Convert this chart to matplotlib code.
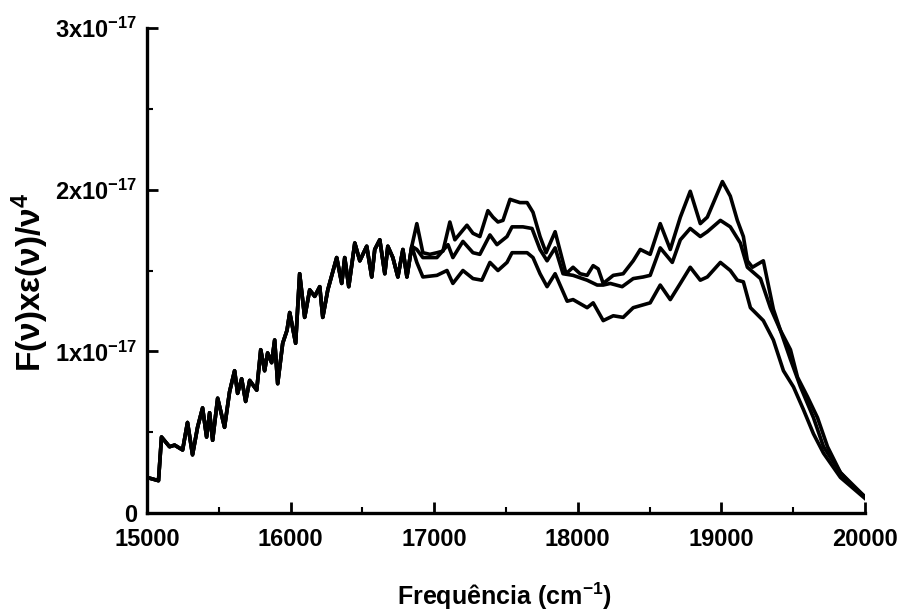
import matplotlib
matplotlib.use('Agg')
import matplotlib.pyplot as plt
import numpy as np
from matplotlib.ticker import MultipleLocator, FixedLocator, FixedFormatter

plt.rcParams['font.family'] = ['Liberation Sans', 'DejaVu Sans']
plt.rcParams['mathtext.fontset'] = 'custom'
plt.rcParams['mathtext.rm'] = 'Liberation Sans'
plt.rcParams['mathtext.it'] = 'Liberation Sans:italic'
plt.rcParams['mathtext.bf'] = 'Liberation Sans:bold'

# Shared (overlapping) low-frequency part, values in units of 1e-17
x_shared = [15000, 15080, 15101, 15157, 15192, 15248, 15282, 15317, 15352, 15387,
            15415, 15436, 15457, 15492, 15540, 15575, 15610, 15631, 15659, 15687,
            15715, 15764, 15792, 15819, 15840, 15868, 15889, 15910, 15945, 15975,
            15994, 16035, 16063, 16098, 16133, 16168, 16203, 16224, 16259, 16321,
            16356, 16377, 16405, 16447, 16482, 16530, 16565, 16586, 16621, 16656,
            16677, 16712, 16747, 16782, 16810, 16844]
y_shared = [0.22, 0.20, 0.47, 0.41, 0.42, 0.39, 0.56, 0.36, 0.53, 0.65,
            0.47, 0.62, 0.45, 0.71, 0.53, 0.75, 0.88, 0.74, 0.83, 0.69,
            0.82, 0.76, 1.01, 0.88, 0.99, 0.93, 1.07, 0.80, 1.05, 1.13,
            1.24, 1.05, 1.48, 1.21, 1.38, 1.34, 1.40, 1.21, 1.38, 1.58,
            1.42, 1.58, 1.40, 1.67, 1.56, 1.65, 1.46, 1.63, 1.69, 1.48,
            1.65, 1.58, 1.46, 1.63, 1.46, 1.65]

x_top = [16879, 16921, 16970, 17019, 17061, 17109, 17144, 17228, 17270, 17318,
         17374, 17409, 17444, 17479, 17528, 17597, 17647, 17688, 17737, 17779,
         17842, 17918, 17967, 18016, 18065, 18107, 18142, 18177, 18247, 18316,
         18386, 18435, 18504, 18574, 18644, 18714, 18783, 18853, 18902, 19007,
         19062, 19111, 19153, 19181, 19216, 19292, 19362, 19411, 19481, 19530,
         19599, 19669, 19739, 19829, 19920, 20000]
y_top = [1.79, 1.61, 1.60, 1.61, 1.62, 1.80, 1.69, 1.78, 1.73, 1.71,
         1.87, 1.83, 1.80, 1.81, 1.94, 1.92, 1.92, 1.86, 1.71, 1.61,
         1.74, 1.48, 1.52, 1.48, 1.47, 1.53, 1.51, 1.42, 1.47, 1.48,
         1.56, 1.63, 1.60, 1.79, 1.63, 1.83, 1.99, 1.79, 1.83, 2.05,
         1.96, 1.81, 1.71, 1.56, 1.52, 1.56, 1.26, 1.13, 1.01, 0.84,
         0.72, 0.59, 0.41, 0.25, 0.16, 0.10]

x_mid = [16879, 16921, 17019, 17096, 17130, 17200, 17270, 17318, 17388, 17437,
         17507, 17542, 17618, 17681, 17737, 17786, 17842, 17897, 17967, 18065,
         18135, 18177, 18226, 18309, 18386, 18456, 18504, 18574, 18658, 18714,
         18783, 18853, 18902, 18993, 19062, 19132, 19181, 19272, 19341, 19411,
         19481, 19551, 19641, 19711, 19829, 20000]
y_mid = [1.63, 1.58, 1.58, 1.66, 1.58, 1.68, 1.61, 1.60, 1.72, 1.66,
         1.71, 1.77, 1.77, 1.76, 1.63, 1.56, 1.64, 1.48, 1.47, 1.44,
         1.41, 1.41, 1.42, 1.40, 1.45, 1.46, 1.47, 1.64, 1.55, 1.69,
         1.76, 1.71, 1.74, 1.81, 1.77, 1.67, 1.52, 1.45, 1.27, 1.13,
         0.95, 0.78, 0.59, 0.41, 0.25, 0.10]

x_bot = [16879, 16921, 17019, 17089, 17130, 17200, 17270, 17332, 17388, 17444,
         17507, 17542, 17647, 17688, 17737, 17786, 17842, 17926, 17967, 18065,
         18107, 18177, 18247, 18316, 18386, 18504, 18574, 18644, 18714, 18783,
         18853, 18902, 18993, 19062, 19111, 19153, 19202, 19292, 19362, 19432,
         19502, 19571, 19641, 19711, 19829, 20000]
y_bot = [1.55, 1.46, 1.47, 1.50, 1.42, 1.50, 1.45, 1.44, 1.55, 1.50,
         1.55, 1.61, 1.61, 1.58, 1.48, 1.40, 1.48, 1.31, 1.32, 1.27,
         1.30, 1.19, 1.22, 1.21, 1.27, 1.30, 1.41, 1.32, 1.42, 1.52,
         1.44, 1.46, 1.55, 1.50, 1.44, 1.43, 1.27, 1.19, 1.07, 0.88,
         0.78, 0.64, 0.49, 0.37, 0.22, 0.09]

x_ticks = [15000, 16000, 17000, 18000, 19000, 20000]
y_ticks = [0, 1e-17, 2e-17, 3e-17]
y_ticklabels = ['0', r'$\mathbf{1x10^{-17}}$', r'$\mathbf{2x10^{-17}}$', r'$\mathbf{3x10^{-17}}$']

SCALE = 1e-17

fig = plt.figure(figsize=(9.05, 6.15), dpi=100)
ax = fig.add_axes([147/905, 1 - 513/615, (865 - 147)/905, (513 - 28)/615])

for xs, ys in [(x_top, y_top), (x_mid, y_mid), (x_bot, y_bot)]:
    X = np.array(x_shared + xs)
    Y = np.array(y_shared + ys) * SCALE
    ax.plot(X, Y, color='black', lw=2.6, solid_joinstyle='round')

ax.set_xlim(15000, 20000)
ax.set_ylim(0, 3e-17)
ax.xaxis.set_major_locator(FixedLocator(x_ticks))
ax.xaxis.set_minor_locator(MultipleLocator(500))
ax.yaxis.set_major_locator(FixedLocator(y_ticks))
ax.yaxis.set_major_formatter(FixedFormatter(y_ticklabels))
ax.yaxis.set_minor_locator(MultipleLocator(0.5e-17))

for s in ['top', 'right']:
    ax.spines[s].set_visible(False)
for s in ['left', 'bottom']:
    ax.spines[s].set_linewidth(2.4)

ax.tick_params(which='major', direction='in', length=8, width=2, labelsize=17)
ax.tick_params(axis='x', which='major', pad=11)
ax.tick_params(axis='y', which='major', pad=7)
ax.tick_params(which='minor', direction='in', length=4, width=1.5)
for lab in ax.get_xticklabels() + ax.get_yticklabels():
    lab.set_fontweight('bold')

fig.text(30/905, 1 - 282/615, r'F(ν)xε(ν)/ν$^{\mathbf{4}}$', rotation=90,
         ha='center', va='center', fontsize=24, fontweight='bold')
fig.text(504/905, 1 - 596/615, r'Frequência (cm$^{\mathbf{-1}}$)',
         ha='center', va='center', fontsize=18, fontweight='bold')

fig.savefig('out.png', dpi=100)
